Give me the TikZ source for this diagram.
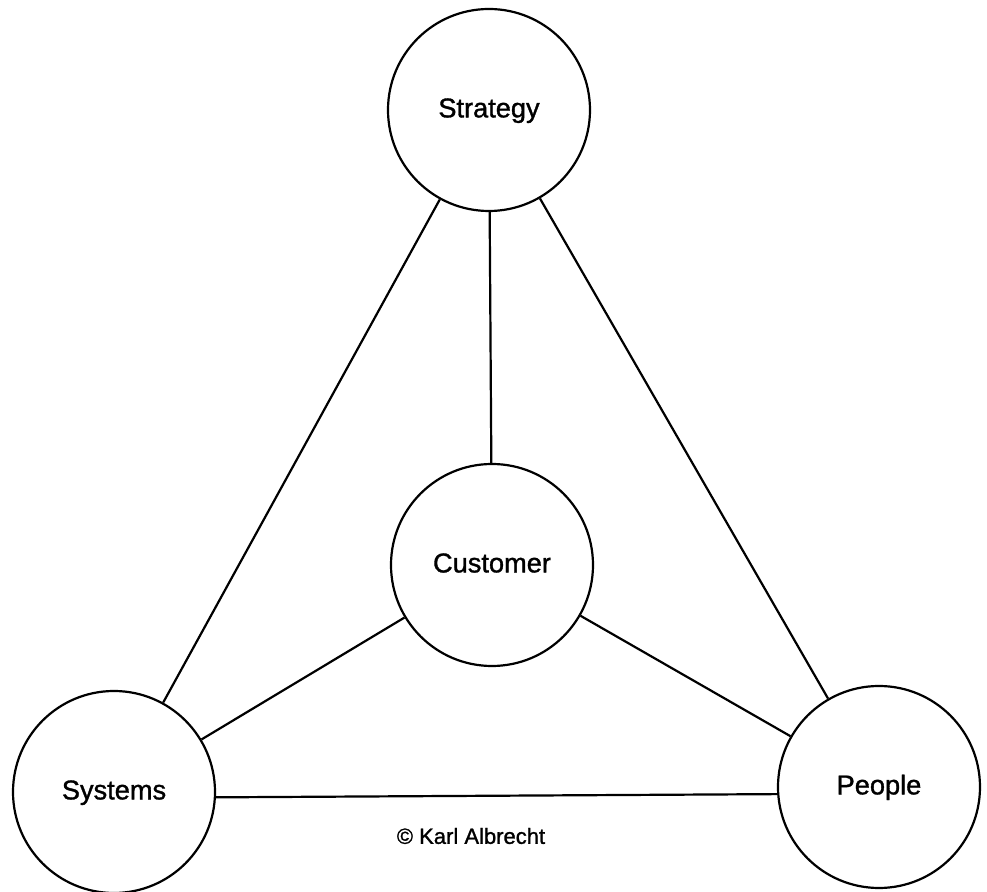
\documentclass[tikz,border=0pt]{standalone}
\usepackage{fontspec}
\setmainfont{Liberation Sans}
\newfontfamily\labelfont{Liberation Sans}[FakeBold=1.2]
\begin{document}
\begin{tikzpicture}[x=0.5pt,y=-0.5pt,
  bubble/.style={circle,draw=black,line width=1.1pt,minimum size=101pt,inner sep=0pt,
    font=\labelfont\fontsize{13.6pt}{16pt}\selectfont,text height=1.6ex,text depth=0.2ex},
  link/.style={line width=1.1pt,draw=black},
  note/.style={font=\labelfont\fontsize{11pt}{13pt}\selectfont,inner sep=0pt}]
\useasboundingbox (0,0) rectangle (987,892);
\node[bubble] (strategy) at (489,110) {Strategy};
\node[bubble] (customer) at (492,565) {Customer};
\node[bubble] (systems) at (114,792) {Systems};
\node[bubble] (people) at (879,787) {People};
\draw[link] (strategy) -- (customer);
\draw[link] (strategy) -- (systems);
\draw[link] (strategy) -- (people);
\draw[link] (customer) -- (systems);
\draw[link] (customer) -- (people);
\draw[link] (systems.-3) -- (people.184.5);
\node[note] (copy) at (471,836) {© Karl Albrecht};
\end{tikzpicture}
\end{document}
